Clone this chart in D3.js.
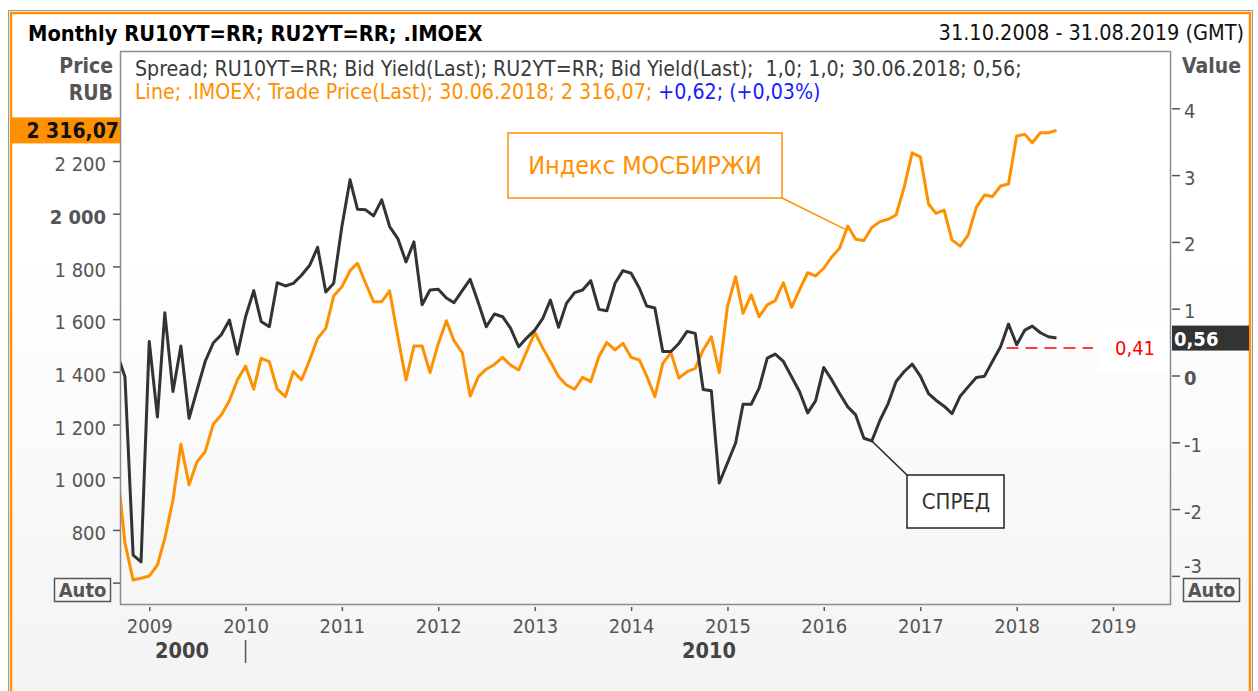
<!DOCTYPE html>
<html>
<head>
<meta charset="utf-8">
<script src="https://cdn.jsdelivr.net/npm/d3@7"></script>
<style>
  body { margin: 0; background: #fff; }
  svg text { font-family: "DejaVu Sans Condensed", "DejaVu Sans", sans-serif; font-stretch: condensed; }
</style>
</head>
<body>
<div id="chart"></div>
<script>
// monthly points, first slot is Sep 2008 (partly clipped by the frame)
const firstMonth = new Date(2008, 8, 1);

// RU10YT - RU2YT spread, right axis
const spread = [
  0.33, -0.02, -2.69, -2.79, 0.51, -0.62, 0.94, -0.24, 0.44, -0.64,
  -0.22, 0.21, 0.49, 0.61, 0.83, 0.32, 0.88, 1.27, 0.81, 0.73,
  1.39, 1.34, 1.38, 1.50, 1.65, 1.92, 1.25, 1.38, 2.23, 2.93,
  2.49, 2.48, 2.39, 2.63, 2.23, 2.05, 1.70, 2.00, 1.06, 1.28,
  1.29, 1.16, 1.09, 1.27, 1.44, 1.09, 0.73, 0.92, 0.88, 0.71,
  0.43, 0.56, 0.68, 0.86, 1.13, 0.72, 1.08, 1.24, 1.28, 1.42,
  0.99, 0.97, 1.38, 1.57, 1.53, 1.31, 1.04, 1.01, 0.36, 0.36,
  0.48, 0.66, 0.63, -0.21, -0.23, -1.61, -1.31, -1.01, -0.43, -0.43,
  -0.19, 0.26, 0.32, 0.21, -0.02, -0.24, -0.56, -0.38, 0.12, -0.07,
  -0.27, -0.47, -0.59, -0.94, -0.98, -0.67, -0.42, -0.09, 0.06, 0.17,
  -0.01, -0.27, -0.37, -0.46, -0.57, -0.31, -0.17, -0.03, -0.01, 0.21,
  0.43, 0.77, 0.46, 0.68, 0.74, 0.64, 0.58, 0.56
];

// .IMOEX, left axis (RUB)
const imoex = [
  1040, 750, 610, 617, 625, 667, 768, 914, 1125, 971,
  1059, 1097, 1202, 1236, 1291, 1369, 1422, 1334, 1451, 1439,
  1334, 1306, 1401, 1369, 1445, 1527, 1565, 1688, 1723, 1784,
  1812, 1736, 1666, 1666, 1707, 1533, 1369, 1498, 1498, 1397,
  1506, 1594, 1518, 1473, 1308, 1382, 1410, 1428, 1455, 1426,
  1407, 1477, 1549, 1489, 1439, 1382, 1350, 1334, 1379, 1363,
  1458, 1511, 1483, 1508, 1455, 1445, 1384, 1306, 1432, 1473,
  1376, 1401, 1413, 1483, 1533, 1397, 1647, 1761, 1622, 1692,
  1609, 1654, 1670, 1738, 1645, 1711, 1776, 1764, 1793, 1837,
  1869, 1953, 1903, 1898, 1948, 1970, 1979, 1995, 2102, 2231,
  2216, 2037, 2001, 2014, 1900, 1877, 1919, 2024, 2071, 2065,
  2105, 2113, 2295, 2301, 2269, 2307, 2307, 2316.07
];

const yearTicks = [2009, 2010, 2011, 2012, 2013, 2014, 2015, 2016, 2017, 2018, 2019];
const priceTicks = [600, 800, 1000, 1200, 1400, 1600, 1800, 2000, 2200];
const valueTicks = [-3, -2, -1, 0, 1, 2, 3, 4];
const lastPrice = 2316.07;
const lastSpread = 0.56;
const refLevel = 0.41;

const W = 1258, H = 691;
const plot = { left: 121, right: 1170, top: 52, bottom: 604 };

const orange = "#ff9000", dark = "#333333", grey = "#555555";

const ru = d3.formatLocale({ decimal: ",", thousands: "\u00a0", grouping: [3], currency: ["", ""], minus: "-" });
const fmtPrice = ru.format(",d");

let svg = d3.select("#chart").append("svg")
  .attr("width", W).attr("height", H);

let defs = svg.append("defs");
let grad = defs.append("linearGradient").attr("id", "bg")
  .attr("x1", 0).attr("y1", 0).attr("x2", 0).attr("y2", 1);
grad.append("stop").attr("offset", "0.35").attr("stop-color", "#ffffff");
grad.append("stop").attr("offset", "1").attr("stop-color", "#f3f3f3");
defs.append("clipPath").attr("id", "clip").append("rect")
  .attr("x", plot.left).attr("y", plot.top)
  .attr("width", plot.right - plot.left).attr("height", plot.bottom - plot.top);

// panel frame
svg.append("rect").attr("x", 8.5).attr("y", 10.5).attr("width", 1244).attr("height", 700)
  .attr("fill", "none").attr("stroke", "#9a9a9a");
svg.append("rect").attr("x", 11).attr("y", 13).attr("width", 1239).attr("height", 700)
  .attr("fill", "url(#bg)").attr("stroke", orange).attr("stroke-width", 2.5);

// scales
let x = d3.scaleTime()
  .domain([new Date(2008, 8, 16), new Date(2019, 7, 5)])
  .range([plot.left, plot.right]);
let yL = d3.scaleLinear().domain([519, 2613.6]).range([plot.bottom, plot.top]);
let yR = d3.scaleLinear().domain([-3.421, 4.843]).range([plot.bottom, plot.top]);

let dates = spread.map((d, i) => d3.timeMonth.offset(firstMonth, i));

// plot frame
svg.append("rect")
  .attr("x", plot.left - 0.5).attr("y", plot.top - 0.5)
  .attr("width", plot.right - plot.left + 1).attr("height", plot.bottom - plot.top + 1)
  .attr("fill", "none").attr("stroke", "#8c8c8c").attr("stroke-width", 1.5);

///////////
// axes  //
///////////

function styleAxis(g) {
  g.select(".domain").remove();
  g.selectAll(".tick line").attr("stroke", grey).attr("stroke-width", 1.5);
  g.selectAll(".tick text").attr("fill", grey).style("font-size", "20px");
}

let xAxis = svg.append("g")
  .attr("transform", "translate(0," + (plot.bottom + 1) + ")")
  .call(d3.axisBottom(x)
    .tickValues(yearTicks.map((y) => new Date(y, 0, 1)))
    .tickFormat(d3.timeFormat("%Y"))
    .tickSize(6).tickPadding(8))
  .call(styleAxis);
xAxis.selectAll(".tick line").attr("y1", 2);

let leftAxis = svg.append("g")
  .attr("transform", "translate(" + (plot.left - 1) + ",0)")
  .call(d3.axisLeft(yL).tickValues(priceTicks).tickFormat(fmtPrice).tickSize(7).tickPadding(7))
  .call(styleAxis);
leftAxis.selectAll(".tick text").attr("dy", "0.48em")
  .style("font-weight", (d) => d === 2000 ? "bold" : null)
  .filter((d) => d === 600).remove();

let rightAxis = svg.append("g")
  .attr("transform", "translate(" + (plot.right + 2) + ",0)")
  .call(d3.axisRight(yR).tickValues(valueTicks).tickFormat(ru.format("d")).tickSize(8).tickPadding(4))
  .call(styleAxis);
rightAxis.selectAll(".tick text").attr("dy", "0.45em")
  .style("font-weight", (d) => d === 0 ? "bold" : null)
  .filter((d) => d === -3).attr("y", -12);

// decade row under the years
let decade = svg.append("g").style("font-size", "21.5px").style("font-weight", "bold").attr("fill", "#444");
decade.append("text").attr("x", 182).attr("y", 658).attr("text-anchor", "middle").text("2000");
decade.append("text").attr("x", 709).attr("y", 658).attr("text-anchor", "middle").text("2010");
svg.append("line")
  .attr("x1", x(new Date(2010, 0, 1))).attr("x2", x(new Date(2010, 0, 1)))
  .attr("y1", 640).attr("y2", 663).attr("stroke", grey).attr("stroke-width", 1.5);

///////////
// lines //
///////////

let lines = svg.append("g").attr("clip-path", "url(#clip)");
lines.append("path")
  .datum(imoex)
  .attr("fill", "none").attr("stroke", orange).attr("stroke-width", 3)
  .attr("stroke-linejoin", "round")
  .attr("d", d3.line().x((d, i) => x(dates[i])).y((d) => yL(d)));
lines.append("path")
  .datum(spread)
  .attr("fill", "none").attr("stroke", dark).attr("stroke-width", 3)
  .attr("stroke-linejoin", "round")
  .attr("d", d3.line().x((d, i) => x(dates[i])).y((d) => yR(d)));

//////////////////
// annotations  //
//////////////////

// reference level
let refY = yR(refLevel);
svg.append("line")
  .attr("x1", x(dates[111]) - 2).attr("x2", 1093).attr("y1", refY).attr("y2", refY)
  .attr("stroke", "#ff0000").attr("stroke-width", 1.5).attr("stroke-dasharray", "12,7");
svg.append("rect").attr("x", 1098).attr("y", refY - 26).attr("width", 71).attr("height", 50).attr("fill", "#ffffff");
svg.append("text").attr("x", 1115).attr("y", refY + 7).attr("fill", "#ff0000")
  .style("font-size", "20px").text(ru.format(".2f")(refLevel));

// index label box
let ip = 91;
svg.append("line")
  .attr("x1", 782).attr("y1", 198).attr("x2", x(dates[ip]) - 3).attr("y2", yL(imoex[ip]) + 3)
  .attr("stroke", orange).attr("stroke-width", 1.5);
svg.append("rect").attr("x", 508).attr("y", 133).attr("width", 274).attr("height", 65)
  .attr("fill", "#ffffff").attr("stroke", orange).attr("stroke-width", 1.5);
svg.append("text").attr("x", 645).attr("y", 174).attr("text-anchor", "middle")
  .attr("fill", orange).style("font-size", "25px").text("Индекс МОСБИРЖИ");

// spread label box
let sp = 94;
svg.append("line")
  .attr("x1", 907).attr("y1", 475).attr("x2", x(dates[sp])).attr("y2", yR(spread[sp]))
  .attr("stroke", "#222").attr("stroke-width", 1.5);
svg.append("rect").attr("x", 907).attr("y", 475).attr("width", 97).attr("height", 53)
  .attr("fill", "#ffffff").attr("stroke", "#222").attr("stroke-width", 1.5);
svg.append("text").attr("x", 956).attr("y", 509).attr("text-anchor", "middle")
  .attr("fill", dark).style("font-size", "22px").text("СПРЕД");

// last value tags
let lpY = yL(lastPrice);
svg.append("rect").attr("x", 12).attr("y", lpY - 13).attr("width", 108).attr("height", 26).attr("fill", orange);
svg.append("text").attr("x", 119).attr("y", lpY + 8).attr("text-anchor", "end")
  .style("font-size", "21px").style("font-weight", "bold").attr("fill", "#111")
  .text(ru.format(",.2f")(lastPrice));

let lsY = yR(lastSpread);
svg.append("rect").attr("x", 1172).attr("y", lsY - 12.5).attr("width", 77).attr("height", 25).attr("fill", dark);
svg.append("text").attr("x", 1174).attr("y", lsY + 8)
  .style("font-size", "20px").style("font-weight", "bold").attr("fill", "#ffffff")
  .text(ru.format(".2f")(lastSpread));

// Auto buttons
[[54, 578], [1183, 578]].forEach(function(p) {
  svg.append("rect").attr("x", p[0] + 0.5).attr("y", p[1] + 0.5).attr("width", 56).attr("height", 23)
    .attr("fill", "#f7f7f7").attr("stroke", grey).attr("stroke-width", 1.5);
  svg.append("text").attr("x", p[0] + 28.5).attr("y", p[1] + 19).attr("text-anchor", "middle")
    .style("font-size", "20px").style("font-weight", "bold").attr("fill", grey).text("Auto");
});

////////////
// header //
////////////

svg.append("text").attr("x", 28).attr("y", 41)
  .style("font-size", "21.7px").style("font-weight", "bold").attr("fill", "#000")
  .text("Monthly RU10YT=RR; RU2YT=RR; .IMOEX");
svg.append("text").attr("x", 1244).attr("y", 40).attr("text-anchor", "end")
  .style("font-size", "21.5px").attr("fill", "#111")
  .text("31.10.2008 - 31.08.2019 (GMT)");

let unit = svg.append("g").style("font-size", "21px").style("font-weight", "bold").attr("fill", grey);
unit.append("text").attr("x", 113).attr("y", 73).attr("text-anchor", "end").text("Price");
unit.append("text").attr("x", 113).attr("y", 100).attr("text-anchor", "end").text("RUB");
unit.append("text").attr("x", 1182).attr("y", 73).text("Value");

// tooltip lines
let tip = svg.append("g").style("font-size", "21.2px");
tip.append("text").attr("x", 135).attr("y", 75.5).attr("fill", "#3a3a3a").attr("xml:space", "preserve")
  .text("Spread; RU10YT=RR; Bid Yield(Last); RU2YT=RR; Bid Yield(Last);  1,0; 1,0; 30.06.2018; "
        + ru.format(".2f")(lastSpread) + ";");
let t2 = tip.append("text").attr("x", 135).attr("y", 98.5);
t2.append("tspan").attr("fill", orange)
  .text("Line; .IMOEX; Trade Price(Last); 30.06.2018; " + ru.format(",.2f")(lastPrice) + "; ");
t2.append("tspan").attr("fill", "#1a1aff").text("+0,62; (+0,03%)");
</script>
</body>
</html>
